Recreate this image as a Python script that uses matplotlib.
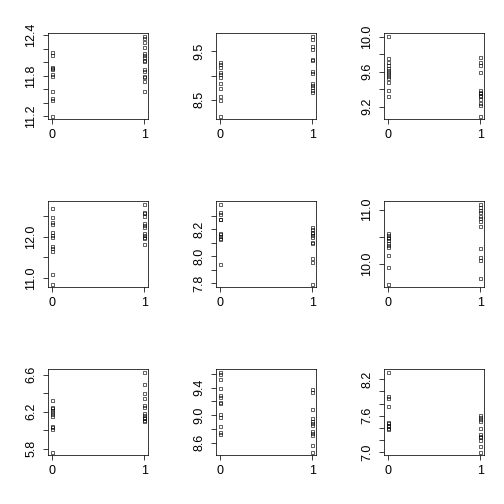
import numpy as np
import matplotlib
matplotlib.use("Agg")
import matplotlib.pyplot as plt

plt.rcParams['font.family'] = ['Liberation Sans', 'DejaVu Sans']

# values: group at x=0 and group at x=1, per panel
p1_g0 = [12.145, 12.111, 11.935, 11.915, 11.896, 11.827, 11.798, 11.572, 11.474, 11.45, 11.21]
p1_g1 = [12.385, 12.351, 12.302, 12.219, 12.131, 12.106, 12.082, 12.033, 12.018, 11.896, 11.876, 11.798, 11.778, 11.729, 11.582]
p2_g0 = [9.28, 9.23, 9.18, 9.08, 9.04, 8.96, 8.84, 8.74, 8.58, 8.49, 8.17]
p2_g1 = [9.81, 9.76, 9.60, 9.55, 9.35, 9.32, 9.10, 9.06, 8.85, 8.81, 8.77, 8.70, 8.67]
p3_g0 = [10.008, 9.755, 9.717, 9.68, 9.64, 9.615, 9.596, 9.578, 9.547, 9.528, 9.483, 9.396, 9.321]
p3_g1 = [9.774, 9.706, 9.679, 9.592, 9.389, 9.366, 9.351, 9.336, 9.321, 9.291, 9.245, 9.215, 9.094]
p4_g0 = [12.70, 12.48, 12.34, 12.30, 12.10, 12.04, 11.98, 11.78, 11.72, 11.66, 11.10, 10.86]
p4_g1 = [12.78, 12.60, 12.56, 12.50, 12.32, 12.28, 12.22, 12.08, 12.04, 12.00, 11.96, 11.82]
p5_g0 = [8.388, 8.331, 8.313, 8.281, 8.274, 8.175, 8.163, 8.151, 8.138, 8.126, 7.943]
p5_g1 = [8.215, 8.20, 8.183, 8.17, 8.158, 8.141, 8.109, 8.096, 7.985, 7.956, 7.795]
p6_g0 = [10.561, 10.53, 10.50, 10.47, 10.44, 10.39, 10.35, 10.32, 10.165, 9.94, 9.634]
p6_g1 = [11.098, 11.049, 11.0, 10.957, 10.878, 10.835, 10.79, 10.695, 10.287, 10.134, 10.073, 9.738]
p7_g0 = [6.331, 6.253, 6.235, 6.218, 6.193, 6.172, 6.154, 6.051, 6.030, 6.016, 5.768]
p7_g1 = [6.625, 6.501, 6.405, 6.349, 6.271, 6.253, 6.182, 6.165, 6.147, 6.129, 6.112, 6.101]
p8_g0 = [9.627, 9.594, 9.522, 9.402, 9.291, 9.258, 9.195, 9.176, 9.018, 8.97, 8.84, 8.754, 8.72]
p8_g1 = [9.378, 9.344, 9.09, 8.955, 8.922, 8.883, 8.85, 8.763, 8.739, 8.715, 8.571, 8.466]
p9_g0 = [8.32, 7.93, 7.89, 7.76, 7.50, 7.47, 7.45, 7.42, 7.39, 7.37]
p9_g1 = [7.61, 7.57, 7.54, 7.51, 7.40, 7.30, 7.27, 7.25, 7.19, 7.10, 7.00]

# y ticks and which of them carry a label (R drops overlapping ones)
p1_ticks = [11.2, 11.4, 11.6, 11.8, 12.0, 12.2, 12.4]
p1_labels = ["11.2", "", "", "11.8", "", "", "12.4"]
p2_ticks = [8.5, 9.0, 9.5]
p2_labels = ["8.5", "", "9.5"]
p3_ticks = [9.2, 9.4, 9.6, 9.8, 10.0]
p3_labels = ["9.2", "", "9.6", "", "10.0"]
p4_ticks = [11.0, 11.5, 12.0, 12.5]
p4_labels = ["11.0", "", "12.0", ""]
p5_ticks = [7.8, 7.9, 8.0, 8.1, 8.2, 8.3]
p5_labels = ["7.8", "", "8.0", "", "8.2", ""]
p6_ticks = [10.0, 10.5, 11.0]
p6_labels = ["10.0", "", "11.0"]
p7_ticks = [5.8, 6.0, 6.2, 6.4, 6.6]
p7_labels = ["5.8", "", "6.2", "", "6.6"]
p8_ticks = [8.6, 8.8, 9.0, 9.2, 9.4, 9.6]
p8_labels = ["8.6", "", "9.0", "", "9.4", ""]
p9_ticks = [7.0, 7.2, 7.4, 7.6, 7.8, 8.0, 8.2]
p9_labels = ["7.0", "", "", "7.6", "", "", "8.2"]

panels = [
    (p1_g0, p1_g1, p1_ticks, p1_labels),
    (p2_g0, p2_g1, p2_ticks, p2_labels),
    (p3_g0, p3_g1, p3_ticks, p3_labels),
    (p4_g0, p4_g1, p4_ticks, p4_labels),
    (p5_g0, p5_g1, p5_ticks, p5_labels),
    (p6_g0, p6_g1, p6_ticks, p6_labels),
    (p7_g0, p7_g1, p7_ticks, p7_labels),
    (p8_g0, p8_g1, p8_ticks, p8_labels),
    (p9_g0, p9_g1, p9_ticks, p9_labels),
]

W = H = 504.0
fig = plt.figure(figsize=(7, 7), dpi=72)

for i, (g0, g1, yt, yl) in enumerate(panels):
    row, col = divmod(i, 3)
    left = 48 + 168 * col
    top = 33 + 168 * row
    ax = fig.add_axes([left / W, 1 - (top + 86) / H, 100 / W, 86 / H])

    x = [0] * len(g0) + [1] * len(g1)
    y = list(g0) + list(g1)
    ax.plot(x, y, linestyle="none", marker="s", markersize=3.0,
            markerfacecolor="none", markeredgecolor="black", markeredgewidth=0.6)

    # R style: 4% padding around the data range
    lo, hi = min(y), max(y)
    pad = 0.04 * (hi - lo)
    ax.set_ylim(lo - pad, hi + pad)
    ax.set_xlim(-0.04, 1.04)

    ax.set_xticks([0, 1])
    ax.set_xticklabels(["0", "1"])
    ax.set_yticks(yt)
    ax.set_yticklabels(yl, rotation=90, va="center")

    ax.tick_params(direction="out", length=5, width=0.75, labelsize=12.5, color="black")
    ax.tick_params(axis="x", pad=4.5)
    ax.tick_params(axis="y", pad=5.5)
    for s in ax.spines.values():
        s.set_linewidth(0.75)
        s.set_color("black")

fig.savefig("out.png", dpi=72, facecolor="white")
